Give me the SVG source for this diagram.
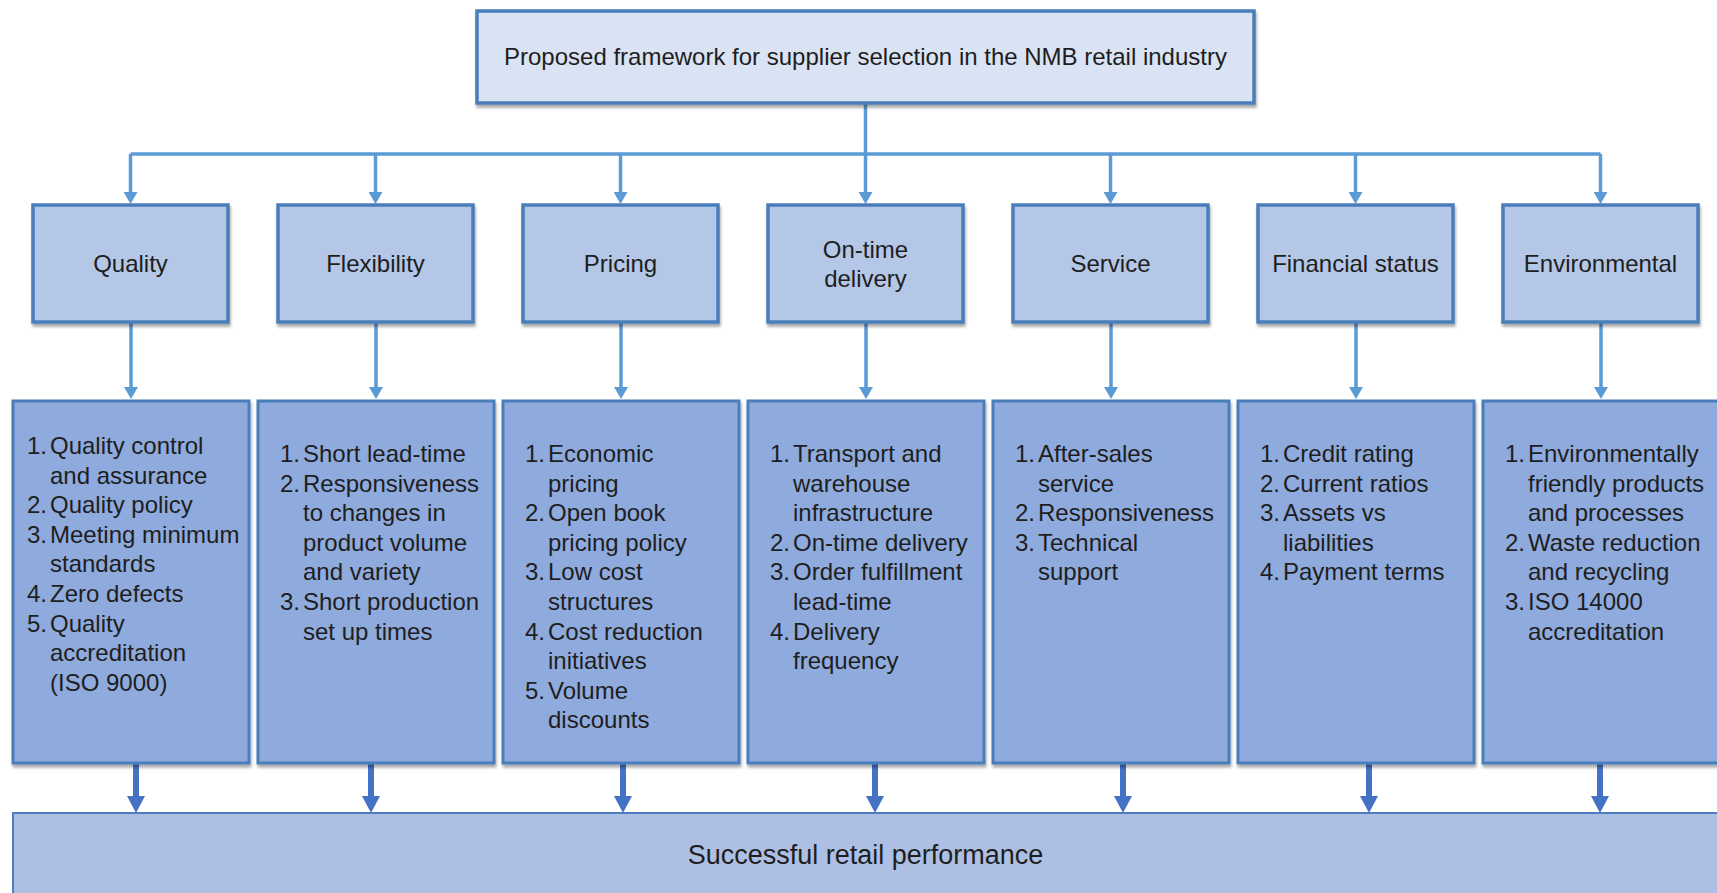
<svg xmlns="http://www.w3.org/2000/svg" width="1717" height="893" viewBox="0 0 1717 893">
  <style>
    text { font-family: "Liberation Sans", Arial, sans-serif; fill: #1E1E1E; }
    .t24 { font-size: 24px; }
    .mid { text-anchor: middle; }
    .head { fill: #DAE3F3; stroke: #4A7EBB; stroke-width: 3.5; }
    .cat { fill: #B4C7E7; stroke: #4A7EBB; stroke-width: 3.5; }
    .det { fill: #8FAADC; stroke: #4A7EBB; stroke-width: 3; }
    .foot { fill: #ADC0E4; stroke: #4F7BC0; stroke-width: 2; }
    .link { fill: none; stroke: #5B9BD5; stroke-width: 3.5; }
    .flow { fill: none; stroke: #4472C4; stroke-width: 6; }
  </style>
  <defs>
    <filter id="shadow" x="-5%" y="-5%" width="110%" height="115%">
      <feDropShadow dx="1" dy="3" stdDeviation="1.5" flood-color="#000" flood-opacity="0.35"/>
    </filter>
    <!-- heads start where the shaft stops, so the tip stays sharp -->
    <marker id="tipBig" markerUnits="userSpaceOnUse" markerWidth="17" markerHeight="18" refX="0" refY="9" orient="auto" viewBox="0 0 17 18">
      <path d="M0,0 L17,9 L0,18 Z" fill="#4472C4"/>
    </marker>
    <marker id="tipLight" markerUnits="userSpaceOnUse" markerWidth="12" markerHeight="14" refX="0" refY="7" orient="auto" viewBox="0 0 12 14">
      <path d="M0,0 L12,7 L0,14 Z" fill="#5B9BD5"/>
    </marker>
  </defs>

  <!-- connectors -->
  <g id="connectors">
    <path class="link" d="M865.5,104 V154 M130.5,154 H1600.5"/>
    <path class="link" marker-end="url(#tipLight)" d="M130.5,154 V192"/>
    <path class="link" marker-end="url(#tipLight)" d="M375.5,154 V192"/>
    <path class="link" marker-end="url(#tipLight)" d="M620.5,154 V192"/>
    <path class="link" marker-end="url(#tipLight)" d="M865.5,154 V192"/>
    <path class="link" marker-end="url(#tipLight)" d="M1110.5,154 V192"/>
    <path class="link" marker-end="url(#tipLight)" d="M1355.5,154 V192"/>
    <path class="link" marker-end="url(#tipLight)" d="M1600.5,154 V192"/>

    <path class="link" marker-end="url(#tipLight)" d="M131,323 V387"/>
    <path class="link" marker-end="url(#tipLight)" d="M376,323 V387"/>
    <path class="link" marker-end="url(#tipLight)" d="M621,323 V387"/>
    <path class="link" marker-end="url(#tipLight)" d="M866,323 V387"/>
    <path class="link" marker-end="url(#tipLight)" d="M1111,323 V387"/>
    <path class="link" marker-end="url(#tipLight)" d="M1356,323 V387"/>
    <path class="link" marker-end="url(#tipLight)" d="M1601,323 V387"/>

    <path class="flow" marker-end="url(#tipBig)" d="M136,764 V796"/>
    <path class="flow" marker-end="url(#tipBig)" d="M371,764 V796"/>
    <path class="flow" marker-end="url(#tipBig)" d="M623,764 V796"/>
    <path class="flow" marker-end="url(#tipBig)" d="M875,764 V796"/>
    <path class="flow" marker-end="url(#tipBig)" d="M1123,764 V796"/>
    <path class="flow" marker-end="url(#tipBig)" d="M1369,764 V796"/>
    <path class="flow" marker-end="url(#tipBig)" d="M1600,764 V796"/>
  </g>

  <!-- framework title -->
  <g id="framework">
    <rect class="head" x="477" y="11" width="777" height="92" filter="url(#shadow)"/>
    <text class="t24 mid" x="865.5" y="65">Proposed framework for supplier selection in the NMB retail industry</text>
  </g>

  <!-- criteria -->
  <g id="quality">
    <rect class="cat" x="33" y="205" width="195" height="117" filter="url(#shadow)"/>
    <text class="t24 mid" x="130.5" y="272">Quality</text>
  </g>
  <g id="flexibility">
    <rect class="cat" x="278" y="205" width="195" height="117" filter="url(#shadow)"/>
    <text class="t24 mid" x="375.5" y="272">Flexibility</text>
  </g>
  <g id="pricing">
    <rect class="cat" x="523" y="205" width="195" height="117" filter="url(#shadow)"/>
    <text class="t24 mid" x="620.5" y="272">Pricing</text>
  </g>
  <g id="delivery">
    <rect class="cat" x="768" y="205" width="195" height="117" filter="url(#shadow)"/>
    <text class="t24 mid" x="865.5" y="258">On-time</text>
    <text class="t24 mid" x="865.5" y="287">delivery</text>
  </g>
  <g id="service">
    <rect class="cat" x="1013" y="205" width="195" height="117" filter="url(#shadow)"/>
    <text class="t24 mid" x="1110.5" y="272">Service</text>
  </g>
  <g id="financial">
    <rect class="cat" x="1258" y="205" width="195" height="117" filter="url(#shadow)"/>
    <text class="t24 mid" x="1355.5" y="272">Financial status</text>
  </g>
  <g id="environmental">
    <rect class="cat" x="1503" y="205" width="195" height="117" filter="url(#shadow)"/>
    <text class="t24 mid" x="1600.5" y="272">Environmental</text>
  </g>

  <!-- sub-criteria lists -->
  <g id="quality-items">
    <rect class="det" x="13" y="401" width="236" height="362" filter="url(#shadow)"/>
    <g class="t24">
      <text x="27" y="454">1.</text><text x="50" y="454">Quality control</text>
      <text x="50" y="483.6">and assurance</text>
      <text x="27" y="513.2">2.</text><text x="50" y="513.2">Quality policy</text>
      <text x="27" y="542.8">3.</text><text x="50" y="542.8">Meeting minimum</text>
      <text x="50" y="572.4">standards</text>
      <text x="27" y="602">4.</text><text x="50" y="602">Zero defects</text>
      <text x="27" y="631.6">5.</text><text x="50" y="631.6">Quality</text>
      <text x="50" y="661.2">accreditation</text>
      <text x="50" y="690.8">(ISO 9000)</text>
    </g>
  </g>
  <g id="flexibility-items">
    <rect class="det" x="258" y="401" width="236" height="362" filter="url(#shadow)"/>
    <g class="t24">
      <text x="280" y="462">1.</text><text x="303" y="462">Short lead-time</text>
      <text x="280" y="491.6">2.</text><text x="303" y="491.6">Responsiveness</text>
      <text x="303" y="521.2">to changes in</text>
      <text x="303" y="550.8">product volume</text>
      <text x="303" y="580.4">and variety</text>
      <text x="280" y="610">3.</text><text x="303" y="610">Short production</text>
      <text x="303" y="639.6">set up times</text>
    </g>
  </g>
  <g id="pricing-items">
    <rect class="det" x="503" y="401" width="236" height="362" filter="url(#shadow)"/>
    <g class="t24">
      <text x="525" y="462">1.</text><text x="548" y="462">Economic</text>
      <text x="548" y="491.6">pricing</text>
      <text x="525" y="521.2">2.</text><text x="548" y="521.2">Open book</text>
      <text x="548" y="550.8">pricing policy</text>
      <text x="525" y="580.4">3.</text><text x="548" y="580.4">Low cost</text>
      <text x="548" y="610">structures</text>
      <text x="525" y="639.6">4.</text><text x="548" y="639.6">Cost reduction</text>
      <text x="548" y="669.2">initiatives</text>
      <text x="525" y="698.8">5.</text><text x="548" y="698.8">Volume</text>
      <text x="548" y="728.4">discounts</text>
    </g>
  </g>
  <g id="delivery-items">
    <rect class="det" x="748" y="401" width="236" height="362" filter="url(#shadow)"/>
    <g class="t24">
      <text x="770" y="462">1.</text><text x="793" y="462">Transport and</text>
      <text x="793" y="491.6">warehouse</text>
      <text x="793" y="521.2">infrastructure</text>
      <text x="770" y="550.8">2.</text><text x="793" y="550.8">On-time delivery</text>
      <text x="770" y="580.4">3.</text><text x="793" y="580.4">Order fulfillment</text>
      <text x="793" y="610">lead-time</text>
      <text x="770" y="639.6">4.</text><text x="793" y="639.6">Delivery</text>
      <text x="793" y="669.2">frequency</text>
    </g>
  </g>
  <g id="service-items">
    <rect class="det" x="993" y="401" width="236" height="362" filter="url(#shadow)"/>
    <g class="t24">
      <text x="1015" y="462">1.</text><text x="1038" y="462">After-sales</text>
      <text x="1038" y="491.6">service</text>
      <text x="1015" y="521.2">2.</text><text x="1038" y="521.2">Responsiveness</text>
      <text x="1015" y="550.8">3.</text><text x="1038" y="550.8">Technical</text>
      <text x="1038" y="580.4">support</text>
    </g>
  </g>
  <g id="financial-items">
    <rect class="det" x="1238" y="401" width="236" height="362" filter="url(#shadow)"/>
    <g class="t24">
      <text x="1260" y="462">1.</text><text x="1283" y="462">Credit rating</text>
      <text x="1260" y="491.6">2.</text><text x="1283" y="491.6">Current ratios</text>
      <text x="1260" y="521.2">3.</text><text x="1283" y="521.2">Assets vs</text>
      <text x="1283" y="550.8">liabilities</text>
      <text x="1260" y="580.4">4.</text><text x="1283" y="580.4">Payment terms</text>
    </g>
  </g>
  <g id="environmental-items">
    <rect class="det" x="1483" y="401" width="240" height="362" filter="url(#shadow)"/>
    <g class="t24">
      <text x="1505" y="462">1.</text><text x="1528" y="462">Environmentally</text>
      <text x="1528" y="491.6">friendly products</text>
      <text x="1528" y="521.2">and processes</text>
      <text x="1505" y="550.8">2.</text><text x="1528" y="550.8">Waste reduction</text>
      <text x="1528" y="580.4">and recycling</text>
      <text x="1505" y="610">3.</text><text x="1528" y="610">ISO 14000</text>
      <text x="1528" y="639.6">accreditation</text>
    </g>
  </g>

  <!-- outcome -->
  <g id="performance">
    <rect class="foot" x="13" y="813" width="1720" height="100"/>
    <text class="mid" x="865.5" y="864" style="font-size:27px">Successful retail performance</text>
  </g>
</svg>
